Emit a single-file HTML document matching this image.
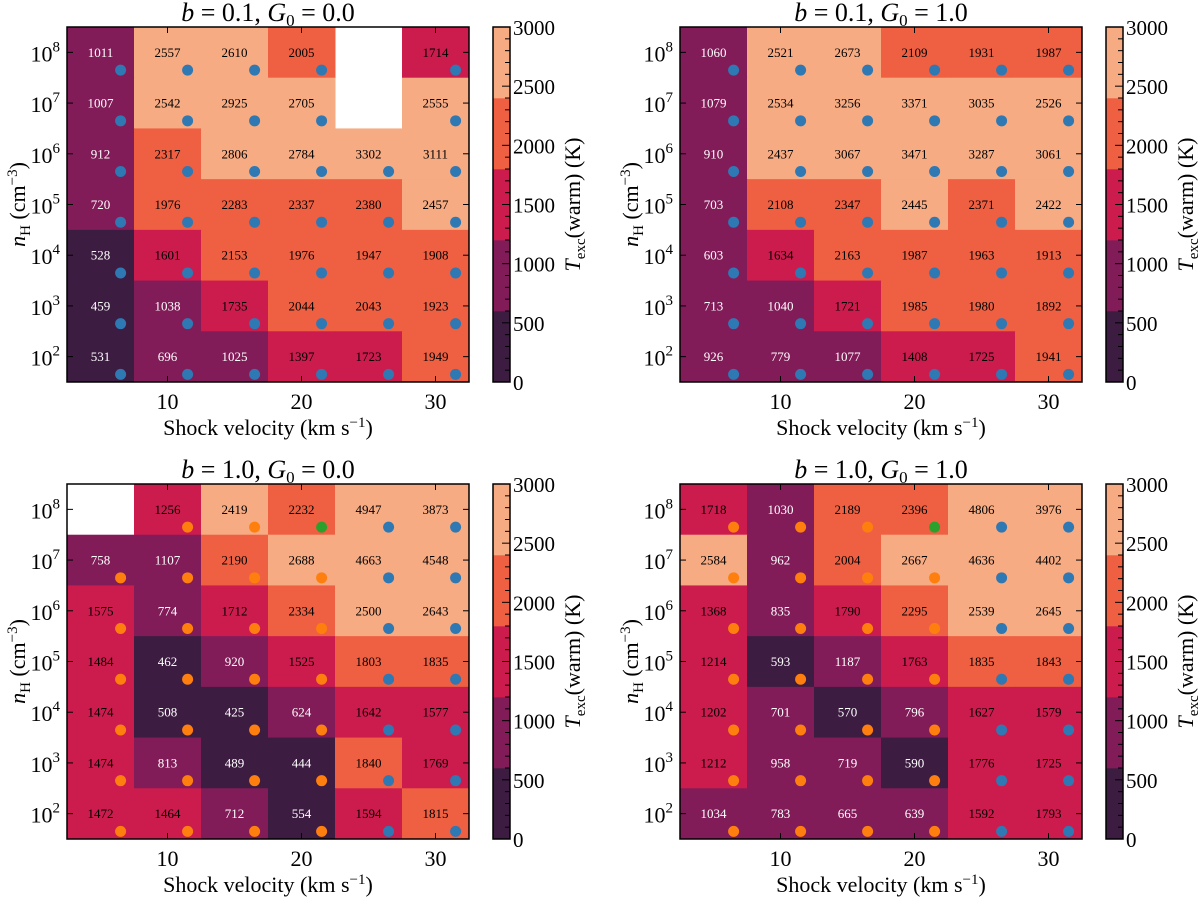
<!DOCTYPE html>
<html><head><meta charset="utf-8">
<style>
body{margin:0;background:#fff;}
svg text{font-family:"Liberation Serif","DejaVu Serif",serif;}
</style></head>
<body>
<svg id="fig" width="1200" height="898" viewBox="0 0 1200 898" xmlns="http://www.w3.org/2000/svg"></svg>
<script>
// Data: rows from n=1e8 (top) to 1e2 (bottom); columns v=5..30; null = missing
const velocities = [5,10,15,20,25,30];
const densityExps = [8,7,6,5,4,3,2];
const xTicks = [10,20,30];
const cbTicks = [0,500,1000,1500,2000,2500,3000];
const bandEdges = [0,600,1200,1800,2400,3000];
const bandColors = ["#3d1c42","#821c59","#cc1c4e","#ef6043","#f6ab83"];
const titles = ["b = 0.1, G0 = 0.0","b = 0.1, G0 = 1.0","b = 1.0, G0 = 0.0","b = 1.0, G0 = 1.0"];
const tempA = [
 [1011,2557,2610,2005,null,1714],
 [1007,2542,2925,2705,null,2555],
 [912,2317,2806,2784,3302,3111],
 [720,1976,2283,2337,2380,2457],
 [528,1601,2153,1976,1947,1908],
 [459,1038,1735,2044,2043,1923],
 [531,696,1025,1397,1723,1949]];
const tempB = [
 [1060,2521,2673,2109,1931,1987],
 [1079,2534,3256,3371,3035,2526],
 [910,2437,3067,3471,3287,3061],
 [703,2108,2347,2445,2371,2422],
 [603,1634,2163,1987,1963,1913],
 [713,1040,1721,1985,1980,1892],
 [926,779,1077,1408,1725,1941]];
const tempC = [
 [null,1256,2419,2232,4947,3873],
 [758,1107,2190,2688,4663,4548],
 [1575,774,1712,2334,2500,2643],
 [1484,462,920,1525,1803,1835],
 [1474,508,425,624,1642,1577],
 [1474,813,489,444,1840,1769],
 [1472,1464,712,554,1594,1815]];
const tempD = [
 [1718,1030,2189,2396,4806,3976],
 [2584,962,2004,2667,4636,4402],
 [1368,835,1790,2295,2539,2645],
 [1214,593,1187,1763,1835,1843],
 [1202,701,570,796,1627,1579],
 [1212,958,719,590,1776,1725],
 [1034,783,665,639,1592,1793]];
// dot category: 0 blue, 1 orange, 2 green
const dotsTop = [[0,0,0,0,0,0],[0,0,0,0,0,0],[0,0,0,0,0,0],[0,0,0,0,0,0],[0,0,0,0,0,0],[0,0,0,0,0,0],[0,0,0,0,0,0]];
const dotsBottom = [[1,1,1,2,0,0],[1,1,1,1,0,0],[1,1,1,1,0,0],[1,1,1,1,0,0],[1,1,1,1,0,0],[1,1,1,1,0,0],[1,1,1,1,0,0]];
const dotColors = ["#2e78b3","#ff7f0e","#2ca02c"];

const NS="http://www.w3.org/2000/svg";
const svg=document.getElementById('fig');
function mk(tag,attrs,parent){const e=document.createElementNS(NS,tag);for(const k in attrs)e.setAttribute(k,attrs[k]);(parent||svg).appendChild(e);return e;}

const W=402,H=355;
function bandColor(t){let i=Math.floor(t/600);if(i<0)i=0;if(i>4)i=4;return bandColors[i];}

function panel(ox,oy,temps,dots,title,idx){
  const g=mk('g',{});
  
  
  const xs=v=>ox+(v-2.5)/30*W;
  const ys=e=>oy+(8.5-e)/7*H;
  const cw=xs(7.5)-xs(2.5), ch=ys(1.5)-ys(2.5);
  temps.forEach((row,r)=>row.forEach((t,c)=>{
    const v=velocities[c],e=densityExps[r];
    const x0=xs(v-2.5),y0=ys(e+0.5);
    if(t===null)return;
    const rc=mk('rect',{x:x0,y:y0,width:cw+0.5,height:ch+0.5,fill:bandColor(t)},g);
    
    
  }));
  temps.forEach((row,r)=>row.forEach((t,c)=>{
    const v=velocities[c],e=densityExps[r];
    if(t!==null){
      const tx=mk('text',{x:xs(v),y:ys(e)+4.5,'font-size':13,'text-anchor':'middle',fill:t<1200?'#fff':'#000'},g);
      tx.textContent=t;
      
      
      const d=mk('circle',{cx:xs(v+1.5),cy:ys(e-0.35),r:5.5,fill:dotColors[dots[r][c]]},g);
      
      
    }
  }));
  const fr=mk('rect',{x:ox,y:oy,width:W,height:H,fill:'none',stroke:'#000','stroke-width':1.5},g);
  
  
  xTicks.forEach(v=>{
    mk('line',{x1:xs(v),x2:xs(v),y1:oy+H,y2:oy+H-6,stroke:'#000'},g);
    mk('line',{x1:xs(v),x2:xs(v),y1:oy,y2:oy+6,stroke:'#000'},g);
    const t=mk('text',{x:xs(v),y:oy+H+27,'font-size':22,'text-anchor':'middle'},g);
    t.textContent=v;
    
    
  });
  densityExps.forEach(e=>{
    mk('line',{x1:ox,x2:ox+6,y1:ys(e),y2:ys(e),stroke:'#000'},g);
    mk('line',{x1:ox+W,x2:ox+W-6,y1:ys(e),y2:ys(e),stroke:'#000'},g);
    const t=mk('text',{x:ox-7,y:ys(e)+9,'font-size':22,'text-anchor':'end'},g);
    t.innerHTML='10<tspan dy="-10" font-size="15">'+e+'</tspan>';
    
    
  });
  const xl=mk('text',{x:ox+W/2,y:oy+H+53,'font-size':22,'text-anchor':'middle'},g);
  xl.innerHTML='Shock velocity (km s<tspan dy="-8" font-size="15">−1</tspan><tspan dy="8">)</tspan>';
  
  
  const yl=mk('text',{transform:'translate('+(ox-42)+','+(oy+H/2)+') rotate(-90)','font-size':22,'text-anchor':'middle'},g);
  yl.innerHTML='<tspan font-style="italic">n</tspan><tspan dy="5" font-size="15">H</tspan><tspan dy="-5"> (cm</tspan><tspan dy="-8" font-size="15">−3</tspan><tspan dy="8">)</tspan>';
  
  
  const parts=title.split(', ');
  const tt=mk('text',{x:ox+W/2,y:oy-6,'font-size':26,'text-anchor':'middle'},g);
  tt.innerHTML='<tspan font-style="italic">b</tspan> = '+parts[0].split('= ')[1]+', <tspan font-style="italic">G</tspan><tspan dy="5" font-size="17">0</tspan><tspan dy="-5"> = '+parts[1].split('= ')[1]+'</tspan>';
  
  
  const cx=ox+426,cwid=17;
  const cy=v=>oy+H-v/3000*H;
  const cb=mk('g',{},g);
  
  
  for(let i=0;i<bandColors.length;i++){
    mk('rect',{x:cx,y:cy(bandEdges[i+1]),width:cwid,height:cy(bandEdges[i])-cy(bandEdges[i+1])+0.3,fill:bandColors[i]},cb);
  }
  mk('rect',{x:cx,y:oy,width:cwid,height:H,fill:'none',stroke:'#000','stroke-width':1.5},cb);
  for(let v=100;v<3000;v+=100){
    const major=v%500===0;
    mk('line',{x1:cx+cwid,x2:cx+cwid-(major?8:5),y1:cy(v),y2:cy(v),stroke:'#000','stroke-width':1},cb);
  }
  cbTicks.forEach(v=>{
    const t=mk('text',{x:cx+cwid+3,y:cy(v)+8,'font-size':21},cb);
    t.textContent=v;
    
    
  });
  const cl=mk('text',{transform:'translate('+(cx+cwid+70)+','+(oy+H/2)+') rotate(-90)','font-size':22,'text-anchor':'middle'},cb);
  cl.innerHTML='<tspan font-style="italic">T</tspan><tspan dy="5" font-size="15">exc</tspan><tspan dy="-5">(warm) (K)</tspan>';
  
  
}
panel(67,27,tempA,dotsTop,titles[0],0);
panel(680,27,tempB,dotsTop,titles[1],1);
panel(67,484,tempC,dotsBottom,titles[2],2);
panel(680,484,tempD,dotsBottom,titles[3],3);
</script>
</body></html>
